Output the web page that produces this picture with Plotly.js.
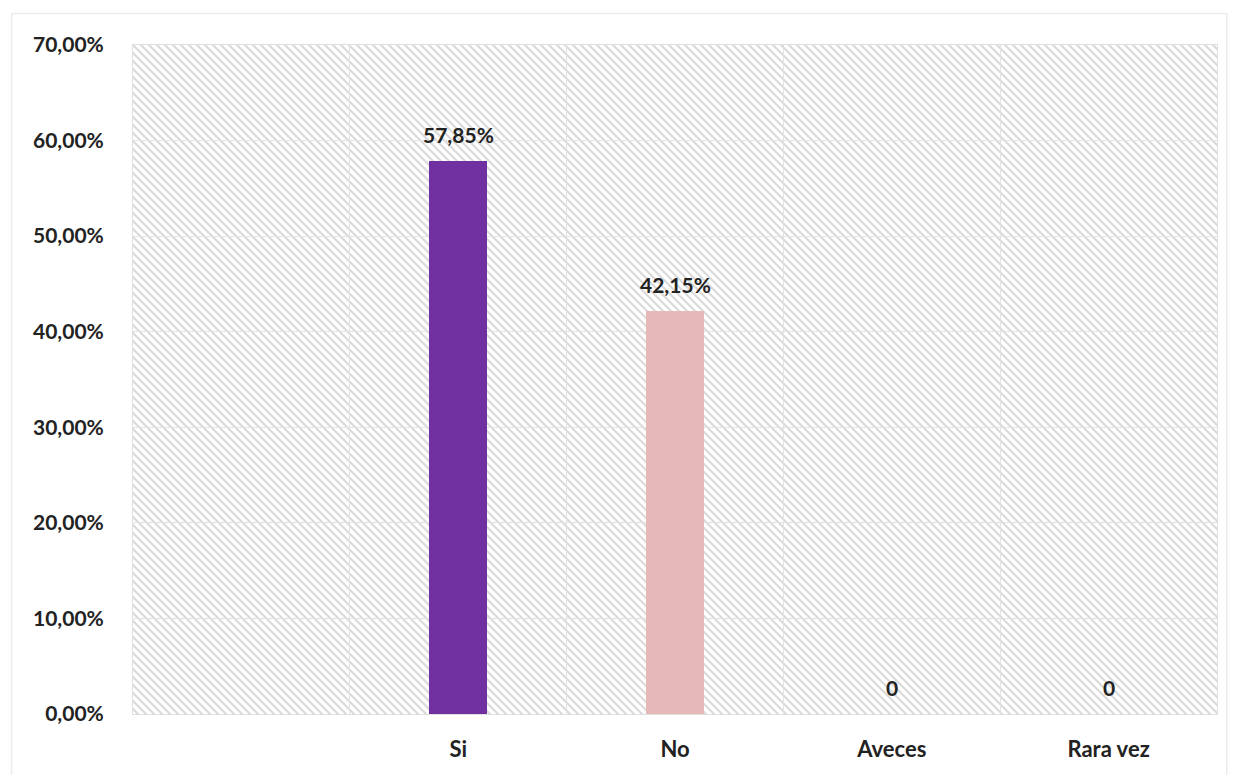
<!DOCTYPE html>
<html>
<head>
<meta charset="utf-8">
<script src="https://cdn.plot.ly/plotly-3.0.1.min.js"></script>
<style>
html,body{margin:0;padding:0;background:#fff;}
#chart{width:1237px;height:775px;}
</style>
</head>
<body>
<div id="chart"></div>
<script>
// ---- data ----
const categories = ["Si", "No", "Aveces", "Rara vez"];
const values = [0.5785, 0.4215, 0, 0];
const valueLabels = ["57,85%", "42,15%", "0", "0"];
const barColors = ["#7030A0", "#E6B8B7", "#7030A0", "#E6B8B7"];
const yTickValues = [0, 0.1, 0.2, 0.3, 0.4, 0.5, 0.6, 0.7];

// ---- hatch background (decoration) ----
const hatchSvg =
  '<svg xmlns="http://www.w3.org/2000/svg" width="1084" height="669" viewBox="0 0 1084 669" preserveAspectRatio="none">' +
  '<defs><pattern id="h" width="8" height="8" patternUnits="userSpaceOnUse">' +
  '<rect width="8" height="8" fill="#ffffff"/>' +
  '<path d="M-2,-2 L10,10 M-2,6 L2,10 M6,-2 L10,2" stroke="#d9d9d9" stroke-width="2"/>' +
  '</pattern></defs><rect width="1084" height="669" fill="url(#h)"/></svg>';
const hatchSrc = "data:image/svg+xml;base64," + btoa(hatchSvg);

const fontFam = "Lato, 'Open Sans', 'Liberation Sans', sans-serif";

const trace = {
  type: "bar",
  x: categories,
  y: values,
  width: 0.27,
  marker: { color: barColors, line: { width: 0 } },
  hoverinfo: "x+y"
};

const annotations = categories.map((c, i) => ({
  x: c,
  y: values[i],
  xref: "x",
  yref: "y",
  text: valueLabels[i],
  showarrow: false,
  yanchor: "bottom",
  yshift: 12,
  font: { family: fontFam, size: 21, color: "#222222", weight: 700 }
}));

const layout = {
  width: 1237,
  height: 775,
  margin: { l: 133, r: 20, t: 45, b: 61 },
  paper_bgcolor: "#ffffff",
  plot_bgcolor: "#ffffff",
  separators: ",.",
  showlegend: false,
  bargap: 0,
  xaxis: {
    type: "category",
    range: [-1.5, 3.5],
    tickson: "boundaries",
    showgrid: true,
    gridcolor: "#e2e2e2",
    gridwidth: 1,
    ticks: "",
    showline: true,
    linecolor: "#e0e0e0",
    mirror: true,
    zeroline: false,
    ticklabelstandoff: 16,
    tickfont: { family: fontFam, size: 22, color: "#222222", weight: 700 },
    fixedrange: true
  },
  yaxis: {
    range: [0, 0.7],
    tickvals: yTickValues,
    tickformat: ".2%",
    showgrid: true,
    gridcolor: "#e2e2e2",
    gridwidth: 1,
    ticks: "",
    showline: true,
    linecolor: "#e0e0e0",
    mirror: true,
    zeroline: false,
    ticklabelstandoff: 24,
    tickfont: { family: fontFam, size: 21, color: "#222222", weight: 700 },
    fixedrange: true
  },
  images: [{
    source: hatchSrc,
    xref: "paper", yref: "paper",
    x: 0, y: 1, sizex: 1, sizey: 1,
    xanchor: "left", yanchor: "top",
    sizing: "stretch",
    layer: "below"
  }],
  shapes: [{
    type: "rect",
    xref: "paper", yref: "paper",
    x0: -0.112, x1: 1.009, y0: -0.12, y1: 1.047,
    line: { color: "#ececec", width: 1.5 },
    fillcolor: "rgba(0,0,0,0)",
    layer: "below"
  }],
  annotations: annotations
};

Plotly.newPlot("chart", [trace], layout, { displayModeBar: false, staticPlot: true });
</script>
</body>
</html>
